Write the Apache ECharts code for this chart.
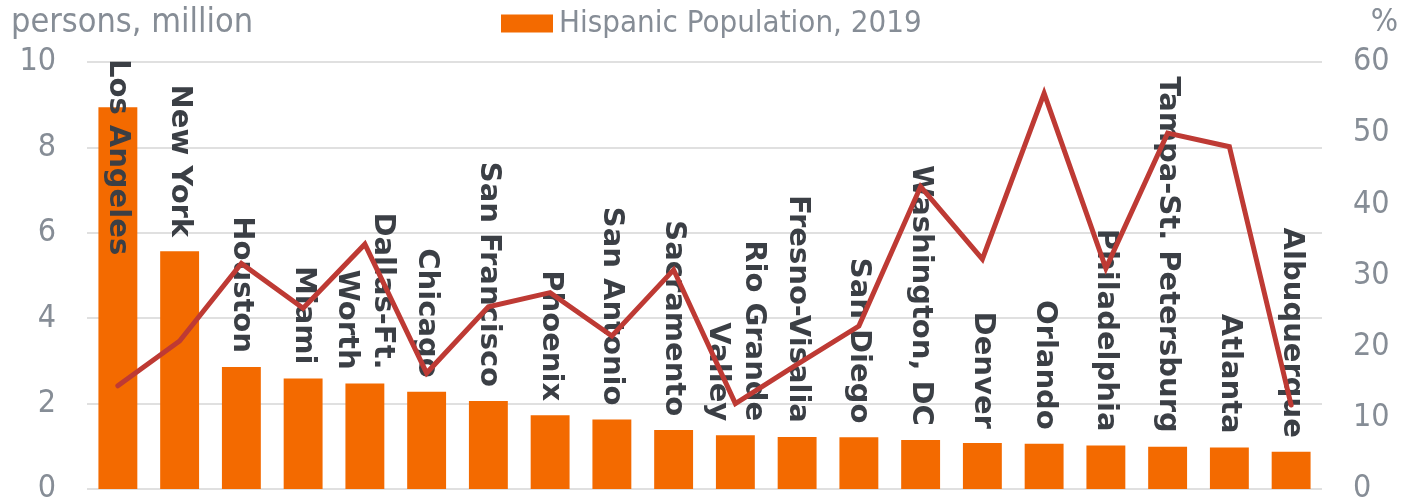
<!DOCTYPE html>
<html>
<head>
<meta charset="utf-8">
<title>Hispanic Population by Metro Area, 2019</title>
<script src="https://cdn.jsdelivr.net/npm/echarts@6/dist/echarts.min.js"></script>
<style>
  html, body { margin: 0; padding: 0; background: #ffffff; }
  #chart { width: 1419px; height: 504px; }
</style>
</head>
<body>
<div id="chart"></div>
<script>
// Metro areas, ordered by Hispanic population
const categories = [
  'Los Angeles', 'New York', 'Houston', 'Miami', 'Dallas-Ft.\nWorth',
  'Chicago', 'San Francisco', 'Phoenix', 'San Antonio', 'Sacramento',
  'Rio Grande\nValley', 'Fresno-Visalia', 'San Diego', 'Washington, DC', 'Denver',
  'Orlando', 'Philadelphia', 'Tampa-St. Petersburg', 'Atlanta', 'Albuquerque'
];

// Hispanic population, persons, million
const population = [
  8.94, 5.57, 2.86, 2.59, 2.47,
  2.28, 2.06, 1.73, 1.63, 1.38,
  1.26, 1.22, 1.21, 1.15, 1.08,
  1.06, 1.02, 0.99, 0.97, 0.87
];

// Hispanic share, % (right axis)
const sharePct = [
  14.5, 20.8, 31.7, 25.4, 34.4,
  16.3, 25.6, 27.6, 21.5, 30.8,
  12.0, 17.5, 22.9, 42.5, 32.3,
  55.6, 31.0, 50.0, 48.1, 11.8
];

const leftTicks = { min: 0, max: 10, interval: 2 };
const rightTicks = { min: 0, max: 60, interval: 10 };

const GRID_TOP = 62;
const AXIS_FONT = '"DejaVu Sans Condensed", "Liberation Sans", sans-serif';
const AXIS_GRAY = '#868d96';
const LABEL_FONT_FAMILY = '"DejaVu Sans", sans-serif';
const LABEL_FONT_SIZE = 29;
const LABEL_DISTANCE = 14;

const chart = echarts.init(document.getElementById('chart'), null, { renderer: 'canvas' });

const barLabel = {
  show: true,
  position: 'top',
  distance: LABEL_DISTANCE,
  rotate: -90,
  align: 'right',
  verticalAlign: 'middle',
  formatter: '{b}',
  fontFamily: LABEL_FONT_FAMILY,
  fontWeight: 'bold',
  fontSize: LABEL_FONT_SIZE,
  lineHeight: 36,
  color: '#3b3f45'
};

chart.setOption({
  animation: false,
  backgroundColor: '#ffffff',
  title: [
    {
      text: 'persons, million',
      left: 6, top: 1,
      textStyle: { fontFamily: AXIS_FONT, fontSize: 34, fontWeight: 'normal', color: AXIS_GRAY }
    },
    {
      text: '%',
      right: 16, top: 2,
      textStyle: { fontFamily: AXIS_FONT, fontSize: 32, fontWeight: 'normal', color: AXIS_GRAY }
    }
  ],
  legend: {
    data: ['Hispanic Population, 2019'],
    left: 496, top: 3,
    icon: 'rect',
    itemWidth: 52, itemHeight: 18, itemGap: 10,
    textStyle: { fontFamily: AXIS_FONT, fontSize: 31, color: AXIS_GRAY, padding: [0, 0, 0, 1] }
  },
  grid: {
    left: 87, right: 97, top: GRID_TOP, bottom: 15,
    outerBoundsMode: 'none', containLabel: false
  },
  xAxis: {
    type: 'category',
    data: categories,
    axisLine: { show: false },
    axisTick: { show: false },
    axisLabel: { show: false }
  },
  yAxis: [
    {
      type: 'value',
      min: leftTicks.min, max: leftTicks.max, interval: leftTicks.interval,
      axisLine: { show: false },
      axisTick: { show: false },
      axisLabel: { fontFamily: AXIS_FONT, fontSize: 32, color: AXIS_GRAY, margin: 31 },
      splitLine: { lineStyle: { color: '#e0e0e0', width: 2 } }
    },
    {
      type: 'value',
      min: rightTicks.min, max: rightTicks.max, interval: rightTicks.interval,
      axisLine: { show: false },
      axisTick: { show: false },
      axisLabel: { fontFamily: AXIS_FONT, fontSize: 32, color: AXIS_GRAY, margin: 31 },
      splitLine: { show: false }
    }
  ],
  series: [
    {
      name: 'Hispanic Population, 2019',
      type: 'bar',
      yAxisIndex: 0,
      data: population,
      barWidth: '63%',
      itemStyle: { color: '#f36a00' },
      label: barLabel,
      z: 2
    },
    {
      name: 'Hispanic share, %',
      type: 'line',
      yAxisIndex: 1,
      data: sharePct,
      symbol: 'none',
      lineStyle: { color: '#be3a34', width: 5, cap: 'round', join: 'miter' },
      z: 5
    }
  ]
});

// Labels that would run above the plot area are pinned to its top edge instead,
// reading downwards over the bar.
const measureCtx = document.createElement('canvas').getContext('2d');
measureCtx.font = 'bold ' + LABEL_FONT_SIZE + 'px ' + LABEL_FONT_FAMILY;
const barData = population.map(function (v, i) {
  const textLen = Math.max.apply(null, categories[i].split('\n').map(function (s) {
    return measureCtx.measureText(s).width;
  }));
  const barTop = chart.convertToPixel({ yAxisIndex: 0 }, v);
  if (barTop - LABEL_DISTANCE - textLen < GRID_TOP) {
    return {
      value: v,
      label: { position: ['50%', GRID_TOP - 3 - barTop], align: 'left' }
    };
  }
  return v;
});
chart.setOption({ series: [{ data: barData }] });
</script>
</body>
</html>
